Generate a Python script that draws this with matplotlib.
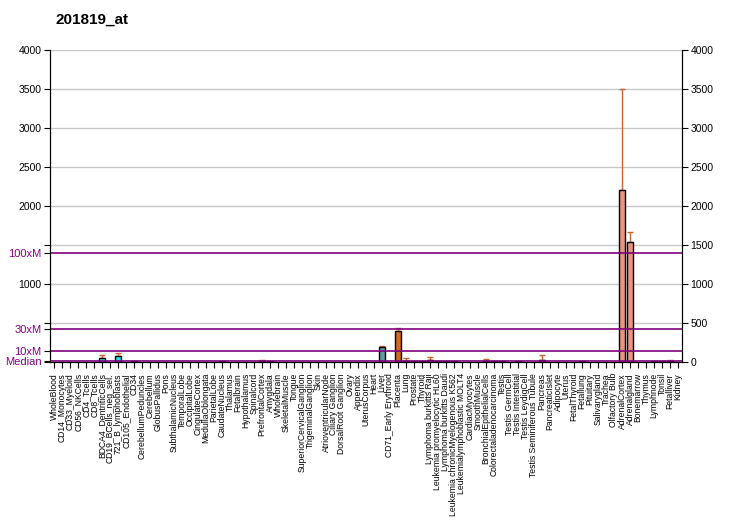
import matplotlib
matplotlib.use("Agg")
import matplotlib.pyplot as plt
import numpy as np

plt.rcParams['font.family'] = ['Liberation Sans', 'DejaVu Sans']

# tissue names, left to right
tissues = ["WholeBlood", "CD14_Monocytes", "CD33_Myeloid", "CD56_NKCells", "CD4_Tcells",
           "CD8_Tcells", "BDCA4_DentriticCells", "CD19_BCells_neg_sel.", "721_B_lymphoblasts",
           "CD105_Endothelial", "CD34", "CerebellumPeduncles", "Cerebellum", "GlobusPallidus",
           "Pons", "SubthalamicNucleus", "TemporalLobe", "OccipitalLobe", "CingulateCortex",
           "MedullaOblongata", "ParietalLobe", "CaudateNucleus", "Thalamus", "Fetalbrain",
           "Hypothalamus", "Spinalcord", "PrefrontalCortex", "Amygdala", "Wholebrain",
           "SkeletalMuscle", "Tongue", "SuperiorCervicalGanglion", "TrigeminalGanglion", "Skin",
           "AtrioventricularNode", "Ciliary Ganglion", "DorsalRoot Ganglion", "Ovary", "Appendix",
           "UterusCorpus", "Heart", "Liver", "CD71_Early Erythroid", "Placenta", "Lung",
           "Prostate", "Thyroid", "Lymphoma burkitts Raji", "Leukemia promyelocytic HL60",
           "Lymphoma burkitts Daudi", "Leukemia chronicMyelogenous K562",
           "Leukemialymphoblastic MOLT4", "CardiacMyocytes", "SmoothMuscle",
           "BronchialEpithelialCells", "Colorectaladenocarcinoma", "Testis", "Testis GermCell",
           "Testis Interstitial", "Testis LeydigCell", "Testis Seminiferous Tubule", "Pancreas",
           "PancreaticIslet", "Adipocyte", "Uterus", "FetalThyroid", "Fetallung", "Pituitary",
           "Salivarygland", "Trachea", "Olfactory Bulb", "AdrenalCortex", "Adrenalgland",
           "Bonemarrow", "Thymus", "Lymphnode", "Tonsil", "Fetalliver", "Kidney"]

# expression values (most are ~0)
values = [0, 0, 0, 0, 0, 0, 55, 0, 80, 0,
          10, 0, 0, 0, 0, 0, 0, 0, 0, 0,
          0, 10, 0, 0, 0, 0, 15, 8, 0, 0,
          0, 0, 0, 0, 0, 0, 0, 0, 0, 0,
          0, 190, 0, 400, 10, 12, 12, 30, 12, 12,
          12, 0, 0, 0, 15, 12, 8, 0, 12, 0,
          0, 30, 0, 0, 0, 0, 12, 0, 0, 0,
          0, 2200, 1540, 0, 0, 12, 12, 15, 0]

errors = [0, 0, 0, 0, 0, 0, 35, 0, 30, 0,
          0, 0, 0, 0, 0, 0, 0, 0, 0, 0,
          0, 0, 0, 0, 0, 0, 15, 0, 0, 0,
          0, 0, 0, 0, 0, 0, 0, 0, 0, 0,
          0, 15, 0, 30, 37, 0, 0, 30, 0, 0,
          0, 0, 0, 0, 23, 0, 0, 0, 0, 0,
          0, 60, 0, 0, 0, 0, 0, 0, 0, 0,
          0, 1300, 130, 0, 0, 0, 0, 15, 0]

dark = '#4B0040'
colors = ['#888888'] * len(tissues)
colors[6] = '#22E0F0'
colors[8] = '#22E0F0'
colors[10] = dark
colors[21] = dark
colors[26] = '#7B6A9E'
colors[27] = '#CC6688'
colors[41] = '#5F9EA0'
colors[43] = '#D2691E'
colors[44] = '#E9967A'
colors[45] = dark
colors[46] = dark
colors[47] = '#22E0F0'
colors[48] = dark
colors[49] = dark
colors[50] = dark
colors[54] = '#6A7FA0'
colors[55] = dark
colors[56] = '#CC6688'
colors[58] = dark
colors[61] = '#8B5A8B'
colors[66] = dark
colors[71] = '#E9967A'
colors[72] = '#E9967A'
colors[75] = dark
colors[76] = dark
colors[77] = '#8B5A8B'

median = 14
marker_vals = [median, 10 * median, 30 * median, 100 * median]
marker_names = ["Median", "10xM", "30xM", "100xM"]

fig = plt.figure(figsize=(7.32, 5.30), dpi=100)
ax = fig.add_axes([50 / 732, 1 - 362 / 530, 632 / 732, 312 / 530])

x = np.arange(len(tissues))
for yv in range(500, 4001, 500):
    ax.axhline(yv, color='#C8C8C8', lw=1, zorder=0)

vals = np.array(values, dtype=float)
errs = np.array(errors, dtype=float)
show = vals > 0
ax.bar(x[show], vals[show], width=0.75, color=[c for c, s in zip(colors, show) if s],
       edgecolor='black', linewidth=1, zorder=3)
has_err = errs > 0
ax.errorbar(x[has_err], vals[has_err], yerr=[np.zeros(has_err.sum()), errs[has_err]],
            fmt='none', ecolor='#C8642D', elinewidth=1, capsize=2.5, capthick=1, zorder=2)

for mv in marker_vals:
    ax.axhline(mv, color='#800080', lw=1.2, zorder=4)

ax.set_xlim(-0.5, len(tissues) - 0.5)
ax.set_ylim(0, 4000)
ax.set_xticks(x)
ax.set_xticklabels(tissues, rotation=90, fontsize=6.2)
ax.tick_params(axis='x', length=4, pad=4)

# left axis: numbers plus the purple median markers
num_ticks = list(range(0, 4001, 500))
num_labels = ['' if v in (0, 500, 1500) else str(v) for v in num_ticks]
ax.set_yticks(num_ticks + marker_vals)
ax.set_yticklabels(num_labels + marker_names, fontsize=7.5)
ticks = ax.yaxis.get_major_ticks()
for i in range(len(num_ticks), len(num_ticks) + len(marker_vals)):
    ticks[i].label1.set_color('#800080')
    ticks[i].label1.set_fontsize(8)
    ticks[i].tick1line.set_color('#800080')
ax.tick_params(axis='y', length=4, pad=2)

ax2 = ax.twinx()
ax2.set_ylim(0, 4000)
ax2.set_yticks(num_ticks)
ax2.set_yticklabels([str(v) for v in num_ticks], fontsize=7.5)
ax2.tick_params(axis='y', length=4, pad=2)

for a in (ax, ax2):
    a.spines['top'].set_visible(False)

fig.text(55 / 732, 1 - 20 / 530, "201819_at", fontsize=11, fontweight='bold',
         va='center', ha='left')

fig.savefig("out.png", dpi=100)
